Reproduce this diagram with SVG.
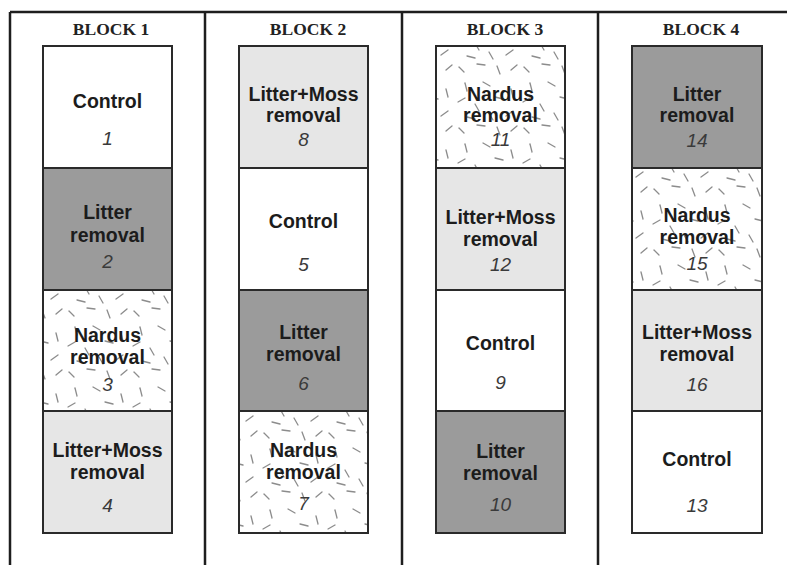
<svg xmlns="http://www.w3.org/2000/svg" width="787" height="565" viewBox="0 0 787 565">
<style>
.frame{stroke:#1e1e1e;stroke-width:2.5;fill:none}
.cell{stroke:#2a2a2a;stroke-width:2}
.ctrl{fill:#ffffff}
.lit{fill:#9b9b9b}
.lm{fill:#e6e6e6}
.hd{font-family:"Liberation Serif",serif;font-weight:bold;font-size:17.5px;fill:#222;text-anchor:middle}
.lb{font-family:"Liberation Sans",Arial,sans-serif;font-weight:bold;font-size:19.5px;fill:#1c1c1c;text-anchor:middle}
.nm{font-family:"Liberation Sans",Arial,sans-serif;font-style:italic;font-size:19px;fill:#3a3a3a;text-anchor:middle}
</style>
<defs>
<pattern id="nardus" patternUnits="userSpaceOnUse" width="65" height="61">
<rect width="65" height="61" fill="#ffffff"/>
<g stroke="#8c8c8c" stroke-width="1.3" stroke-linecap="round">
<line x1="4" y1="6" x2="9" y2="11"/>
<line x1="22" y1="3" x2="30" y2="4"/>
<line x1="42" y1="5" x2="45" y2="13"/>
<line x1="56" y1="9" x2="62" y2="4"/>
<line x1="10" y1="22" x2="12" y2="30"/>
<line x1="28" y1="21" x2="35" y2="25"/>
<line x1="3" y1="41" x2="10" y2="37"/>
<line x1="20" y1="43" x2="24" y2="50"/>
<line x1="40" y1="36" x2="48" y2="38"/>
<line x1="56" y1="28" x2="58" y2="36"/>
<line x1="12" y1="56" x2="20" y2="58"/>
<line x1="34" y1="52" x2="38" y2="59"/>
<line x1="51" y1="55" x2="58" y2="50"/>
</g>
</pattern>
</defs>
<rect width="787" height="565" fill="#ffffff"/>
<g id="frame">
<line class="frame" x1="10" y1="12" x2="787" y2="12"/>
<line class="frame" x1="10" y1="12" x2="10" y2="565"/>
<line class="frame" x1="205" y1="12" x2="205" y2="565"/>
<line class="frame" x1="402" y1="12" x2="402" y2="565"/>
<line class="frame" x1="598" y1="12" x2="598" y2="565"/>
</g>
<g id="headers">
<text class="hd" x="111" y="35">BLOCK 1</text>
<text class="hd" x="308" y="35">BLOCK 2</text>
<text class="hd" x="505" y="35">BLOCK 3</text>
<text class="hd" x="701" y="35">BLOCK 4</text>
</g>
<g id="block1">
<g id="plot1"><rect class="cell ctrl" x="43" y="46" width="129" height="122"/>
<text class="lb" x="107.5" y="108">Control</text><text class="nm" x="107.5" y="145">1</text></g>
<g id="plot2"><rect class="cell lit" x="43" y="168" width="129" height="122"/>
<text class="lb" x="107.5" y="219">Litter</text><text class="lb" x="107.5" y="242">removal</text><text class="nm" x="107.5" y="268">2</text></g>
<g id="plot3"><rect class="cell" fill="url(#nardus)" x="43" y="290" width="129" height="121"/>
<text class="lb" x="107.5" y="342">Nardus</text><text class="lb" x="107.5" y="364">removal</text><text class="nm" x="107.5" y="391">3</text></g>
<g id="plot4"><rect class="cell lm" x="43" y="411" width="129" height="122"/>
<text class="lb" x="107.5" y="457">Litter+Moss</text><text class="lb" x="107.5" y="479">removal</text><text class="nm" x="107.5" y="512">4</text></g>
</g>
<g id="block2">
<g id="plot8"><rect class="cell lm" x="239" y="46" width="129" height="122"/>
<text class="lb" x="303.5" y="101">Litter+Moss</text><text class="lb" x="303.5" y="122">removal</text><text class="nm" x="303.5" y="146">8</text></g>
<g id="plot5"><rect class="cell ctrl" x="239" y="168" width="129" height="122"/>
<text class="lb" x="303.5" y="228">Control</text><text class="nm" x="303.5" y="271">5</text></g>
<g id="plot6"><rect class="cell lit" x="239" y="290" width="129" height="121"/>
<text class="lb" x="303.5" y="339">Litter</text><text class="lb" x="303.5" y="361">removal</text><text class="nm" x="303.5" y="390">6</text></g>
<g id="plot7"><rect class="cell" fill="url(#nardus)" x="239" y="411" width="129" height="122"/>
<text class="lb" x="303.5" y="457">Nardus</text><text class="lb" x="303.5" y="479">removal</text><text class="nm" x="303.5" y="510">7</text></g>
</g>
<g id="block3">
<g id="plot11"><rect class="cell" fill="url(#nardus)" x="436" y="46" width="129" height="122"/>
<text class="lb" x="500.5" y="101">Nardus</text><text class="lb" x="500.5" y="122">removal</text><text class="nm" x="500.5" y="146">11</text></g>
<g id="plot12"><rect class="cell lm" x="436" y="168" width="129" height="122"/>
<text class="lb" x="500.5" y="224">Litter+Moss</text><text class="lb" x="500.5" y="246">removal</text><text class="nm" x="500.5" y="271">12</text></g>
<g id="plot9"><rect class="cell ctrl" x="436" y="290" width="129" height="121"/>
<text class="lb" x="500.5" y="350">Control</text><text class="nm" x="500.5" y="389">9</text></g>
<g id="plot10"><rect class="cell lit" x="436" y="411" width="129" height="122"/>
<text class="lb" x="500.5" y="458">Litter</text><text class="lb" x="500.5" y="480">removal</text><text class="nm" x="500.5" y="511">10</text></g>
</g>
<g id="block4">
<g id="plot14"><rect class="cell lit" x="632" y="46" width="130" height="122"/>
<text class="lb" x="697" y="101">Litter</text><text class="lb" x="697" y="122">removal</text><text class="nm" x="697" y="147">14</text></g>
<g id="plot15"><rect class="cell" fill="url(#nardus)" x="632" y="168" width="130" height="122"/>
<text class="lb" x="697" y="222">Nardus</text><text class="lb" x="697" y="244">removal</text><text class="nm" x="697" y="270">15</text></g>
<g id="plot16"><rect class="cell lm" x="632" y="290" width="130" height="121"/>
<text class="lb" x="697" y="339">Litter+Moss</text><text class="lb" x="697" y="361">removal</text><text class="nm" x="697" y="391">16</text></g>
<g id="plot13"><rect class="cell ctrl" x="632" y="411" width="130" height="122"/>
<text class="lb" x="697" y="466">Control</text><text class="nm" x="697" y="512">13</text></g>
</g>
</svg>
